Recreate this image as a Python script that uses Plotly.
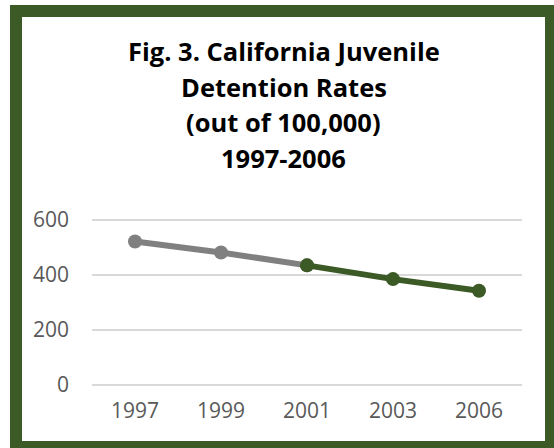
import plotly.graph_objects as go

# Detention rates per 100,000 youth
years = ["1997", "1999", "2001", "2003", "2006"]
early_years = ["1997", "1999", "2001"]
early_rates = [522, 482, 435]
late_years = ["2001", "2003", "2006"]
late_rates = [435, 385, 343]

title_lines = [
    "Fig. 3. California Juvenile",
    "Detention Rates",
    "(out of 100,000)",
    "1997-2006",
]
y_ticks = [0, 200, 400, 600]

W, H = 554, 448
L, R, T, B = 92, 32, 217, 63
PAD = 3  # headroom so the 600 gridline sits inside the plot area
Y_MAX = 600 * (H - T - B) / (H - T - B - PAD)
GREEN = "#3b5a26"
GRAY = "#808080"
FONT = "Open Sans"


def px_x(px):
    return (px - L) / (W - L - R)


def px_y(py):
    return (H - B - py) / (H - T - B)


fig = go.Figure()
fig.add_trace(go.Scatter(
    x=early_years, y=early_rates, mode="lines+markers",
    line=dict(color=GRAY, width=6), marker=dict(color=GRAY, size=14),
    showlegend=False, hoverinfo="x+y",
))
fig.add_trace(go.Scatter(
    x=late_years, y=late_rates, mode="lines+markers",
    line=dict(color=GREEN, width=6), marker=dict(color=GREEN, size=14),
    showlegend=False, hoverinfo="x+y",
))

# stacked title lines
for text, cy in zip(title_lines, [51, 86.5, 122, 157.5]):
    fig.add_annotation(
        text=f"<b>{text}</b>", x=px_x(283.5), y=px_y(cy),
        xref="paper", yref="paper", showarrow=False,
        xanchor="center", yanchor="middle",
        font=dict(family=FONT, size=25.5, color="#000000"),
    )

# dark green frame
fig.add_shape(
    type="rect", xref="paper", yref="paper",
    x0=px_x(16), x1=px_x(551), y0=px_y(11), y1=px_y(447),
    line=dict(color=GREEN, width=12), fillcolor="rgba(0,0,0,0)",
)

fig.update_layout(
    width=W, height=H,
    margin=dict(l=L, r=R, t=T, b=B),
    paper_bgcolor="white", plot_bgcolor="white",
    font=dict(family=FONT, size=21, color="#595959"),
    xaxis=dict(
        type="category", categoryorder="array", categoryarray=years,
        range=[-0.5, 4.5], showgrid=False, zeroline=False, showline=False,
        ticks="", ticklabelstandoff=11,
        tickfont=dict(family=FONT, size=21, color="#595959"),
    ),
    yaxis=dict(
        range=[0, Y_MAX], tickvals=y_ticks, showgrid=True,
        gridcolor="#d9d9d9", gridwidth=1.5,
        zeroline=True, zerolinecolor="#d9d9d9", zerolinewidth=1.5,
        showline=False, ticks="", ticklabelstandoff=22,
        tickfont=dict(family=FONT, size=21, color="#595959"),
    ),
)

fig.write_html("out.html")
